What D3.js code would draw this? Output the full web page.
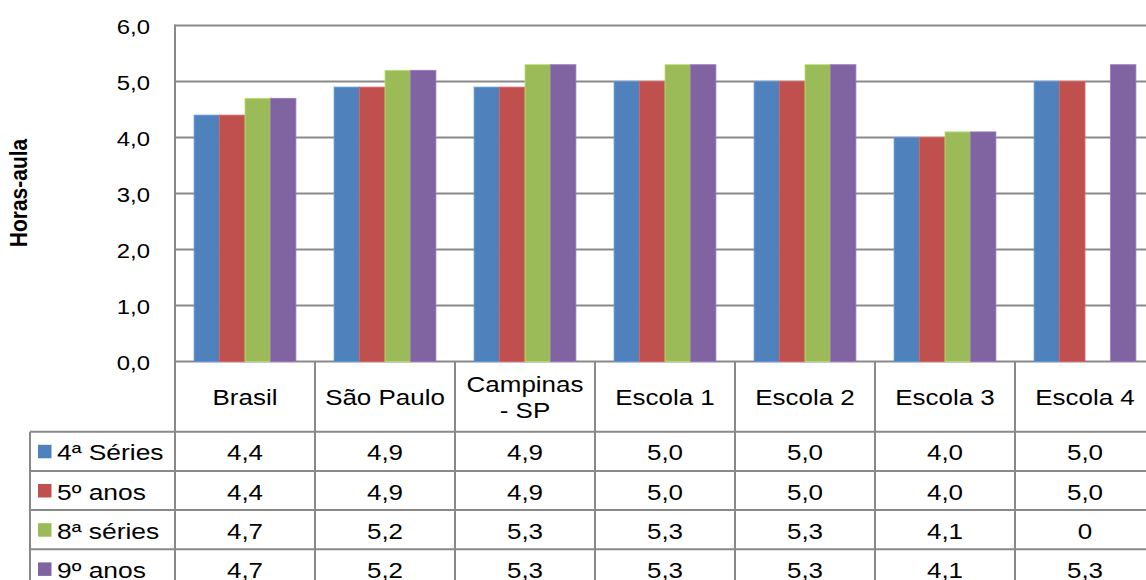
<!DOCTYPE html>
<html>
<head>
<meta charset="utf-8">
<script src="https://cdn.jsdelivr.net/npm/d3@7"></script>
<style>
  html, body { margin: 0; padding: 0; background: #fff; }
  svg { display: block; }
  text { font-family: "Liberation Sans", Arial, sans-serif; fill: #000; }
</style>
</head>
<body>
<svg id="chart" width="1146" height="580"></svg>
<script>
// Lesson hours per day by school level
const categories = ["Brasil", "São Paulo", "Campinas\n- SP", "Escola 1", "Escola 2", "Escola 3", "Escola 4"];
const seriesNames = ["4ª Séries", "5º anos", "8ª séries", "9º anos"];
const seriesColors = ["#4F81BD", "#C0504D", "#9BBB59", "#8064A2"];
const serie4 = [4.4, 4.9, 4.9, 5.0, 5.0, 4.0, 5.0];
const ano5   = [4.4, 4.9, 4.9, 5.0, 5.0, 4.0, 5.0];
const serie8 = [4.7, 5.2, 5.3, 5.3, 5.3, 4.1, 0];
const ano9   = [4.7, 5.2, 5.3, 5.3, 5.3, 4.1, 5.3];
const yTicks = [0, 1, 2, 3, 4, 5, 6];
const yTitle = "Horas-aula";

const series = [serie4, ano5, serie8, ano9];

const svg = d3.select("#chart");
const W = 1146, H = 580;
svg.append("rect").attr("width", W).attr("height", H).attr("fill", "#fff");

const plotLeft = 175, plotTop = 25.5, plotBottom = 361.5;
const bandW = 140;
const gridColor = "#898989";
const SX = 1.18; // horizontal text stretch

const x = d3.scaleBand().domain(d3.range(categories.length))
  .range([plotLeft, plotLeft + bandW * categories.length]).padding(0);
const y = d3.scaleLinear().domain([0, 6]).range([plotBottom, plotTop]);

// bars: gap width 150% of a bar
const barW = x.bandwidth() / 5.5;
const xs = d3.scaleBand().domain(d3.range(series.length))
  .range([barW * 0.75, barW * 4.75]).padding(0);

const fmtTick = v => d3.format(".1f")(v).replace(".", ",");
const fmtCell = v => v === 0 ? "0" : fmtTick(v);

function stretchedText(g, tx, ty, str, size, anchor, sx) {
  return g.append("text")
    .attr("transform", `translate(${tx},${ty}) scale(${sx || SX},1)`)
    .attr("text-anchor", anchor || "middle")
    .attr("font-size", size)
    .text(str);
}

// gridlines
const grid = svg.append("g");
yTicks.forEach(t => {
  grid.append("line")
    .attr("x1", plotLeft).attr("x2", W)
    .attr("y1", y(t)).attr("y2", y(t))
    .attr("stroke", gridColor).attr("stroke-width", 2);
});

// bars
const bars = svg.append("g");
series.forEach((vals, si) => {
  bars.selectAll(null).data(vals).enter().append("rect")
    .attr("x", (d, i) => x(i) + xs(si))
    .attr("y", d => y(d))
    .attr("width", xs.bandwidth())
    .attr("height", d => y(0) - y(d))
    .attr("fill", seriesColors[si])
    .attr("stroke", d3.color(seriesColors[si]).brighter(0.5))
    .attr("stroke-width", d => d === 0 ? 0 : 0.8);
});

// axis line
svg.append("line").attr("x1", plotLeft).attr("x2", plotLeft)
  .attr("y1", plotTop - 1).attr("y2", H)
  .attr("stroke", gridColor).attr("stroke-width", 2);

// y tick labels
const yLab = svg.append("g");
yTicks.forEach(t => {
  stretchedText(yLab, 150, y(t) + 8.5, fmtTick(t), 21, "end", 1.14);
});

// y title
svg.append("text")
  .attr("transform", `translate(27,193) rotate(-90) scale(1,1.15)`)
  .attr("text-anchor", "middle")
  .attr("font-size", 21)
  .attr("font-weight", "bold")
  .text(yTitle);

// data table
const tableLeft = 30;
const headerBottom = 431.7;
const rowH = 39.2;
const table = svg.append("g");

// horizontal rules
for (let r = 0; r <= series.length; r++) {
  const yy = headerBottom + r * rowH;
  if (yy > H + 2) break;
  table.append("line").attr("x1", tableLeft).attr("x2", W)
    .attr("y1", yy).attr("y2", yy)
    .attr("stroke", gridColor).attr("stroke-width", 2);
}
// vertical rules
categories.forEach((c, i) => {
  const xx = x(i) + x.bandwidth();
  table.append("line").attr("x1", xx).attr("x2", xx)
    .attr("y1", plotBottom).attr("y2", H)
    .attr("stroke", gridColor).attr("stroke-width", 2);
});
table.append("line").attr("x1", tableLeft).attr("x2", tableLeft)
  .attr("y1", headerBottom).attr("y2", H)
  .attr("stroke", gridColor).attr("stroke-width", 2);

// category headers
categories.forEach((c, i) => {
  const lines = c.split("\n");
  const cx = x(i) + x.bandwidth() / 2;
  const cy = (plotBottom + headerBottom) / 2;
  const lh = 26.5;
  lines.forEach((ln, k) => {
    const ty = cy + (k - (lines.length - 1) / 2) * lh + 8.5;
    stretchedText(table, cx, ty, ln, 22, "middle");
  });
});

// legend keys + values
series.forEach((vals, si) => {
  const cy = headerBottom + si * rowH + rowH / 2;
  table.append("rect").attr("x", 38).attr("y", cy - 6.5)
    .attr("width", 13.5).attr("height", 13.5).attr("fill", seriesColors[si]);
  stretchedText(table, 57, cy + 9, seriesNames[si], 22, "start", 1.2);
  vals.forEach((v, i) => {
    stretchedText(table, x(i) + x.bandwidth() / 2, cy + 9, fmtCell(v), 22, "middle");
  });
});
</script>
</body>
</html>
